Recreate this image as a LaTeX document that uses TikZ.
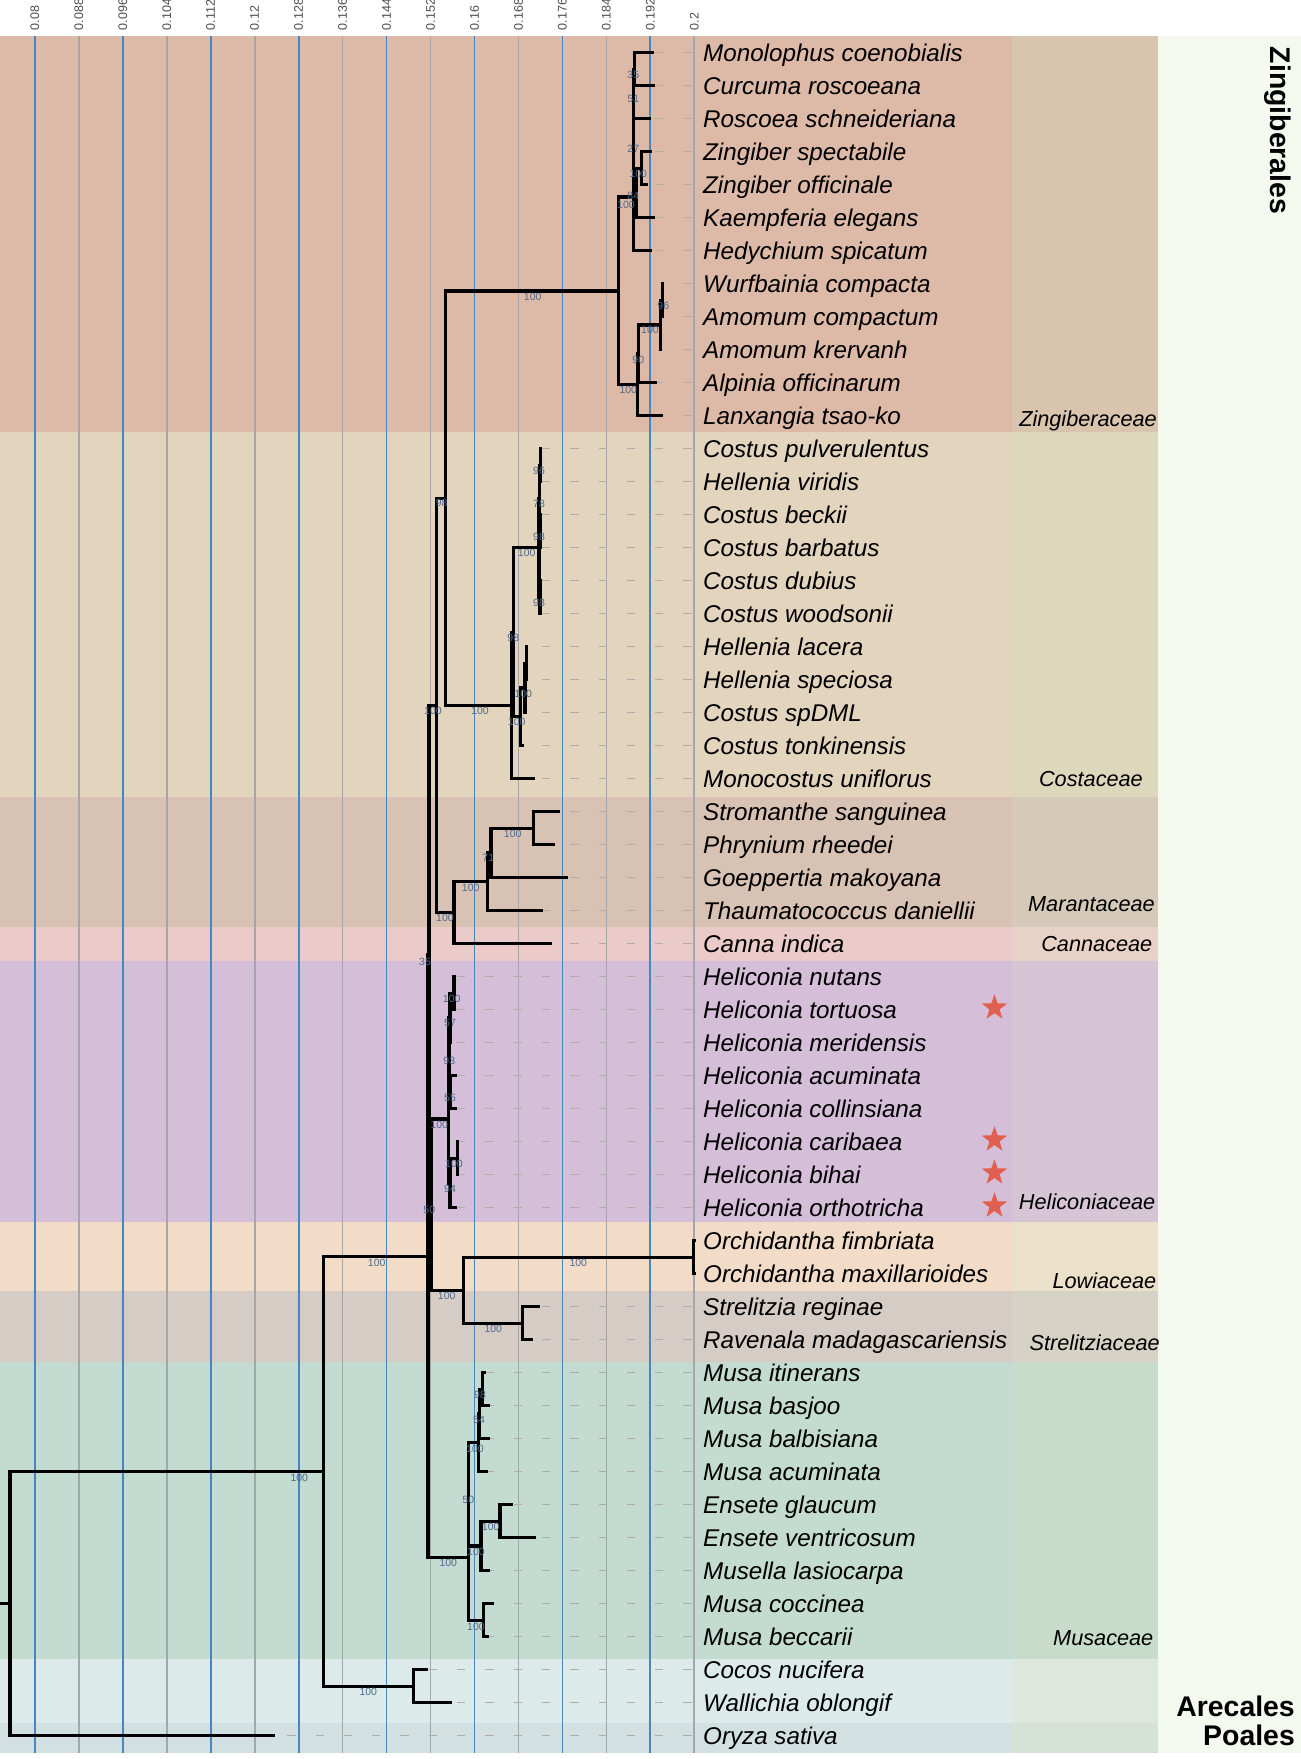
\documentclass[tikz,border=0pt]{standalone}
\usepackage{fontspec}
\setmainfont{Liberation Sans}
\usetikzlibrary{shapes.geometric}
\definecolor{zgL}{HTML}{DDB9A7}\definecolor{zgR}{HTML}{D9C5AE}
\definecolor{coL}{HTML}{E2D4BD}\definecolor{coR}{HTML}{DDD7BC}
\definecolor{maL}{HTML}{D8C2B3}\definecolor{maR}{HTML}{D5C9B7}
\definecolor{caL}{HTML}{EBCACA}\definecolor{caR}{HTML}{E8D2C8}
\definecolor{heL}{HTML}{D5BED8}\definecolor{heR}{HTML}{D6C5D4}
\definecolor{loL}{HTML}{F2DCC8}\definecolor{loR}{HTML}{EBE0CA}
\definecolor{stL}{HTML}{D6CCC6}\definecolor{stR}{HTML}{D6D2C6}
\definecolor{muL}{HTML}{C3DBD1}\definecolor{muR}{HTML}{C7DCCA}
\definecolor{arL}{HTML}{DDEAEA}\definecolor{arR}{HTML}{DDE7DD}
\definecolor{poL}{HTML}{D3E0E1}\definecolor{poR}{HTML}{D6E1D7}
\definecolor{ordbg}{HTML}{F3F9EF}
\definecolor{gridblue}{HTML}{4A86BE}
\definecolor{gridgrey}{HTML}{A3A6AA}
\definecolor{guidecol}{HTML}{B0ADA8}
\definecolor{bscol}{HTML}{4F6A8C}
\definecolor{axcol}{HTML}{4D4D4D}
\definecolor{starred}{HTML}{E0604F}
\begin{document}
\begin{tikzpicture}[x=1pt,y=-1pt,
  br/.style={draw=black,line width=3.3pt},
  guide/.style={draw=guidecol,line width=1.2pt,dash pattern=on 8.3pt off 20pt,dash phase=26pt},
  tax/.style={anchor=base west,inner sep=0,font=\fontsize{24.2}{28}\selectfont\itshape},
  fam/.style={anchor=base east,inner sep=0,font=\fontsize{21.7}{26}\selectfont\itshape},
  ord/.style={inner sep=0,font=\fontsize{28.4}{32}\selectfont\bfseries},
  bs/.style={inner sep=0,text=bscol,font=\fontsize{10.5}{12}\selectfont},
  ax/.style={rotate=90,anchor=west,inner sep=0,text=axcol,font=\fontsize{12.5}{14}\selectfont},
  gb/.style={draw=gridblue,line width=1.8pt},
  gg/.style={draw=gridgrey,line width=1.8pt},
  starmark/.style={star,star points=5,star point ratio=2.5,fill=starred,draw=none,minimum size=27pt,inner sep=0}
]
\useasboundingbox (0,0) rectangle (1301,1759);
\fill[white] (0,0) rectangle (1301,1759);
% background bands
\foreach \ya/\yb/\cl/\cr in {36/432/zgL/zgR, 432/797/coL/coR, 797/927/maL/maR, 927/961/caL/caR,
  961/1222/heL/heR, 1222/1291/loL/loR, 1291/1362/stL/stR, 1362/1659/muL/muR,
  1659/1723/arL/arR, 1723/1752.5/poL/poR}{
  \fill[\cl] (0,\ya) rectangle (1012,\yb);
  \fill[\cr] (1012,\ya) rectangle (1158,\yb);
}
\fill[ordbg] (1158,36) rectangle (1301,1752.5);
% grid and axis labels
\foreach \lab [count=\k from 0] in {0.08,0.088,0.096,0.104,0.112,0.12,0.128,0.136,0.144,0.152,0.16,0.168,0.176,0.184,0.192,0.2}{
  \pgfmathsetmacro\gx{34.8+43.97*\k}
  \ifodd\k
    \draw[gg] (\gx,36) -- (\gx,1752.5);
  \else
    \draw[gb] (\gx,36) -- (\gx,1752.5);
  \fi
  \node[ax] (a\k) at (\gx,30.5) {\lab};
}
% tips and labels
\foreach \i/\x/\nm in {
1/654.3/Monolophus coenobialis,
2/655/Curcuma roscoeana,
3/651/Roscoea schneideriana,
4/651.7/Zingiber spectabile,
5/648.3/Zingiber officinale,
6/655/Kaempferia elegans,
7/651.7/Hedychium spicatum,
8/664/Wurfbainia compacta,
9/664/Amomum compactum,
10/662/Amomum krervanh,
11/656.7/Alpinia officinarum,
12/662.7/Lanxangia tsao-ko,
13/541.5/Costus pulverulentus,
14/541.5/Hellenia viridis,
15/541.5/Costus beckii,
16/541.5/Costus barbatus,
17/541.5/Costus dubius,
18/541.5/Costus woodsonii,
19/528/Hellenia lacera,
20/528/Hellenia speciosa,
21/527/Costus spDML,
22/524/Costus tonkinensis,
23/535/Monocostus uniflorus,
24/560/Stromanthe sanguinea,
25/555/Phrynium rheedei,
26/568.3/Goeppertia makoyana,
27/543.3/Thaumatococcus daniellii,
28/551.7/Canna indica,
29/456/Heliconia nutans,
30/456/Heliconia tortuosa,
31/451.7/Heliconia meridensis,
32/456.7/Heliconia acuminata,
33/456.7/Heliconia collinsiana,
34/459/Heliconia caribaea,
35/459/Heliconia bihai,
36/456.7/Heliconia orthotricha,
37/695.5/Orchidantha fimbriata,
38/695.5/Orchidantha maxillarioides,
39/540/Strelitzia reginae,
40/533.3/Ravenala madagascariensis,
41/486/Musa itinerans,
42/490/Musa basjoo,
43/490/Musa balbisiana,
44/488.3/Musa acuminata,
45/513.3/Ensete glaucum,
46/536/Ensete ventricosum,
47/490/Musella lasiocarpa,
48/494.3/Musa coccinea,
49/489.3/Musa beccarii,
50/427.7/Cocos nucifera,
51/451.7/Wallichia oblongif,
52/275.3/Oryza sativa}{
  \pgfmathsetmacro\ty{52.7+33*(\i-1)}
  \coordinate (t\i) at (\x,\ty);
  \coordinate (g\i) at (694,\ty);
  \node[tax] (l\i) at (703,\ty+8.6) {\nm};
  \draw[guide] (g\i) -- (t\i);
}
% internal nodes
\coordinate (rootstub) at (0,1603.45);
\coordinate (root) at (10,1603.45);
\coordinate (Z0) at (323.3,1471.2);
\coordinate (AR) at (413.3,1686.2);
\coordinate (N1) at (428,1256.2);
\coordinate (N2) at (429,955.05);
\coordinate (N3) at (431.5,1204.6);
\coordinate (ZG) at (436.7,705.5);
\coordinate (ZC) at (445.7,498.2);
\coordinate (ZR) at (618.3,290.9);
\coordinate (ZU) at (633.3,197.1);
\coordinate (N27) at (633.5,143.45);
\coordinate (N51) at (633.8,93.95);
\coordinate (N35) at (634.3,69.2);
\coordinate (N84) at (636.7,192.95);
\coordinate (ZZ) at (641.7,168.2);
\coordinate (ZL) at (637.3,384.75);
\coordinate (ZL2) at (638.3,353.8);
\coordinate (AM) at (660.7,324.95);
\coordinate (AM2) at (662.7,300.2);
\coordinate (C1) at (511.7,705.5);
\coordinate (C2) at (513.3,632.25);
\coordinate (CA) at (539,547.7);
\coordinate (CAr) at (539.5,498.2);
\coordinate (CAs) at (540,597.2);
\coordinate (CAp) at (540.3,465.2);
\coordinate (CAq) at (540.3,531.2);
\coordinate (C3) at (520.7,716.8);
\coordinate (CB) at (525,687.95);
\coordinate (CB2) at (526.5,663.2);
\coordinate (MC) at (454,912.75);
\coordinate (M) at (487.3,881.8);
\coordinate (M2) at (491,852.95);
\coordinate (M3) at (533.3,828.2);
\coordinate (H) at (448.3,1119);
\coordinate (n3) at (449,1055.1);
\coordinate (n2) at (450,1017.95);
\coordinate (n1) at (454,993.2);
\coordinate (m3) at (450.5,1092.2);
\coordinate (m2) at (450,1182.95);
\coordinate (m1) at (457.3,1158.2);
\coordinate (LS) at (463.3,1290.2);
\coordinate (LO) at (693.3,1257.2);
\coordinate (ST) at (522.7,1323.2);
\coordinate (MU) at (468.3,1557.3);
\coordinate (MU1) at (468.8,1494.4);
\coordinate (MA) at (478.5,1442.8);
\coordinate (MB) at (479.5,1413.95);
\coordinate (MCc) at (482.3,1389.2);
\coordinate (EM) at (481,1545.95);
\coordinate (EN) at (500,1521.2);
\coordinate (MCB) at (483.3,1620.2);
% branches
\draw[br] (rootstub) -- (root);
\foreach \p/\c in {root/Z0, root/t52, Z0/N1, Z0/AR, AR/t50, AR/t51, N1/N2, N1/MU, N2/ZG, N2/N3,
  N3/H, N3/LS, ZG/ZC, ZG/MC, ZC/ZR, ZC/C1, ZR/ZU, ZR/ZL, ZU/N27, ZU/t7, N27/N51, N27/N84,
  N51/N35, N51/t3, N35/t1, N35/t2, N84/ZZ, N84/t6, ZZ/t4, ZZ/t5, ZL/ZL2, ZL/t12, ZL2/AM, ZL2/t11,
  AM/AM2, AM/t10, AM2/t8, AM2/t9, C1/C2, C1/t23, C2/CA, C2/C3, CA/CAr, CA/CAs, CAr/CAp, CAr/CAq,
  CAp/t13, CAp/t14, CAq/t15, CAq/t16, CAs/t17, CAs/t18, C3/CB, C3/t22, CB/CB2, CB/t21, CB2/t19,
  CB2/t20, MC/M, MC/t28, M/M2, M/t27, M2/M3, M2/t26, M3/t24, M3/t25, H/n3, H/m2, n3/n2, n3/m3,
  n2/n1, n2/t31, n1/t29, n1/t30, m3/t32, m3/t33, m2/m1, m2/t36, m1/t34, m1/t35, LS/LO, LS/ST,
  LO/t37, LO/t38, ST/t39, ST/t40, MU/MU1, MU/MCB, MU1/MA, MU1/EM, MA/MB, MA/t44, MB/MCc, MB/t43,
  MCc/t41, MCc/t42, EM/EN, EM/t47, EN/t45, EN/t46, MCB/t48, MCB/t49}{
  \draw[br] (\p) |- (\c);
}
% bootstrap values
\foreach \j/\x/\y/\t in {1/532.7/296.7/100, 2/633.3/75/35, 3/633.3/99.3/51, 4/633.3/149/27,
  5/638.3/174/100, 6/633.3/196/84, 7/626/204.5/100, 8/663.3/306/96, 9/650/330/100,
  10/638.3/360/90, 11/628.3/390/100, 12/441.7/503/98, 13/539/471/96, 14/539/503.7/78,
  15/539/537/98, 16/526.7/553.3/100, 17/539/603/98, 18/513.3/638.3/98, 19/523.3/694/100,
  20/516.7/722.3/100, 21/480/711/100, 22/433/711/100, 23/512.7/834/100, 24/488.3/858/71,
  25/470.7/887.7/100, 26/445/918/100, 27/425/961.7/35, 28/451.7/999/100, 29/450/1023.3/57,
  30/449.3/1061/93, 31/450/1097.7/55, 32/439.3/1125/100, 33/454/1164/100, 34/450/1189/94,
  35/429.3/1210/50, 36/578.3/1262.7/100, 37/446.7/1296/100, 38/493.3/1329.3/100,
  39/376.7/1262.4/100, 40/480/1395/98, 41/479/1420/54, 42/475/1449.3/100, 43/468.3/1500/50,
  44/490.7/1526.7/100, 45/476/1552.3/100, 46/448.3/1563.3/100, 47/476/1626.7/100,
  48/368.3/1692/100, 49/299.3/1477.4/100}{
  \node[bs] (b\j) at (\x,\y) {\t};
}
% stars
\foreach \r in {30,34,35,36}{
  \node[starmark] (s\r) at (994.5,{52.7+33*(\r-1)-2}) {};
}
% family labels
\node[fam] (fZing) at (1157,426.5) {Zingiberaceae};
\node[fam] (fCost) at (1143,786.5) {Costaceae};
\node[fam] (fMara) at (1155,911.5) {Marantaceae};
\node[fam] (fCann) at (1152.5,951) {Cannaceae};
\node[fam] (fHeli) at (1155.5,1209) {Heliconiaceae};
\node[fam] (fLowi) at (1156.5,1288) {Lowiaceae};
\node[fam] (fStre) at (1160,1350.5) {Strelitziaceae};
\node[fam] (fMusa) at (1153.5,1645.5) {Musaceae};
% order labels
\node[ord,rotate=-90,anchor=base west] (oZing) at (1270,46.7) {Zingiberales};
\node[ord,anchor=base east] (oArec) at (1295,1716.5) {Arecales};
\node[ord,anchor=base east] (oPoal) at (1295,1745) {Poales};
\end{tikzpicture}
\end{document}
